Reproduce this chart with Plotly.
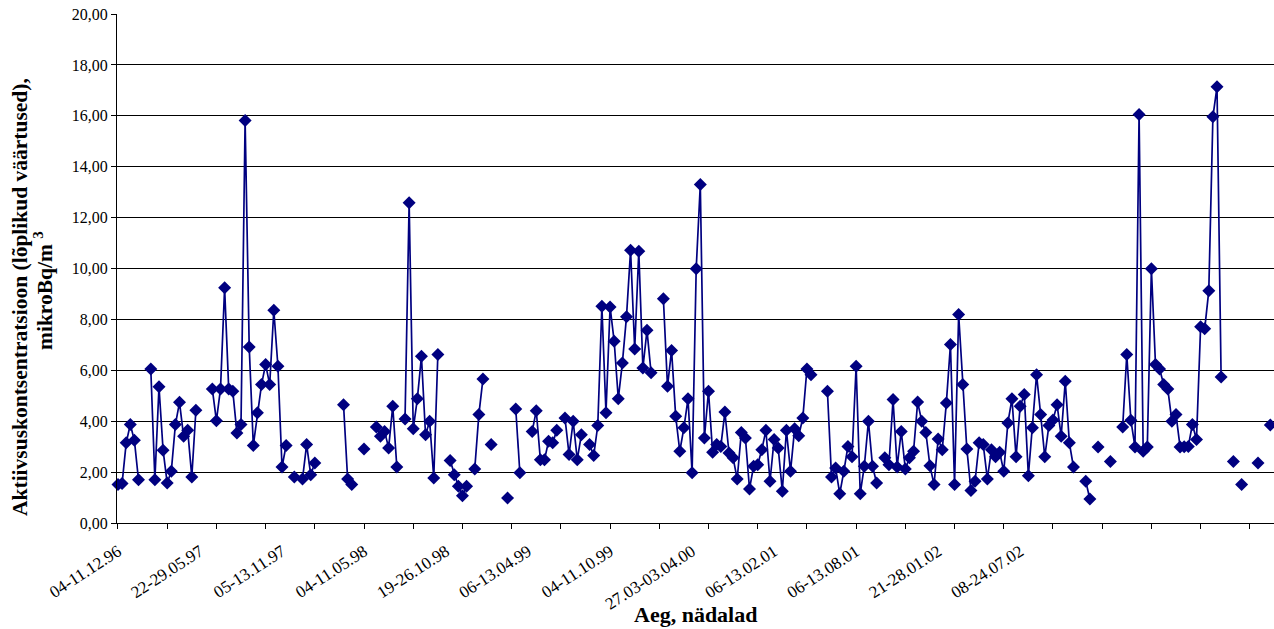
import plotly.graph_objects as go

# ---------------- data ----------------
tick_labels = ["04-11.12.96", "22-29.05.97", "05-13.11.97", "04-11.05.98",
               "19-26.10.98", "06-13.04.99", "04-11.10.99", "27.03-03.04.00",
               "06-13.02.01", "06-13.08.01", "21-28.01.02", "08-24.07.02"]
label_step = 20   # categories between tick labels
tick_step = 12    # categories between tick marks

# weekly activity concentration, mikroBq/m3 (None = no measurement)
values = [
    1.51, 1.55, 3.15, 3.87, 3.25, 1.70, None, None, 6.05, 1.70,
    5.35, 2.86, 1.57, 2.03, 3.87, 4.74, 3.41, 3.64, 1.81, 4.43,
    None, None, None, 5.27, 4.02, 5.27, 9.24, 5.27, 5.18, 3.54,
    3.87, 15.82, 6.92, 3.05, 4.33, 5.44, 6.23, 5.44, 8.36, 6.16,
    2.20, 3.05, None, 1.81, None, 1.73, 3.08, 1.90, 2.36, None,
    None, None, None, None, None, 4.65, 1.73, 1.51, None, None,
    2.91, None, None, 3.77, 3.41, 3.60, 2.95, 4.59, 2.20, None,
    4.09, 12.58, 3.70, 4.88, 6.55, 3.47, 4.00, 1.77, 6.62, None,
    None, 2.46, 1.90, 1.44, 1.07, 1.44, None, 2.12, 4.26, 5.66,
    None, 3.08, None, None, None, 0.98, None, 4.48, 1.97, None,
    None, 3.60, 4.41, 2.49, 2.49, 3.21, 3.15, 3.64, None, 4.13,
    2.69, 4.00, 2.49, 3.47, None, 3.08, 2.65, 3.83, 8.52, 4.33,
    8.49, 7.14, 4.88, 6.29, 8.10, 10.72, 6.84, 10.68, 6.09, 7.57,
    5.90, None, None, 8.81, 5.37, 6.78, 4.19, 2.82, 3.74, 4.88,
    1.97, 9.99, 13.30, 3.34, 5.18, 2.78, 3.08, 3.01, 4.36, 2.75,
    2.56, 1.73, 3.56, 3.34, 1.34, 2.23, 2.29, 2.88, 3.64, 1.64,
    3.28, 2.95, 1.25, 3.64, 2.03, 3.70, 3.43, 4.13, 6.05, 5.83,
    None, None, None, 5.18, 1.81, 2.16, 1.15, 2.03, 3.01, 2.60,
    6.16, 1.15, 2.23, 4.00, 2.23, 1.57, None, 2.56, 2.29, 4.85,
    2.20, 3.60, 2.12, 2.56, 2.82, 4.75, 4.00, 3.56, 2.25, 1.51,
    3.30, 2.88, 4.72, 7.01, 1.51, 8.19, 5.44, 2.91, 1.28, 1.64,
    3.15, 3.08, 1.73, 2.88, 2.60, 2.78, 2.03, 3.93, 4.88, 2.60,
    4.59, 5.05, 1.86, 3.74, 5.83, 4.26, 2.60, 3.83, 4.05, 4.65,
    3.41, 5.57, 3.15, 2.20, None, None, 1.64, 0.94, None, 2.99,
    None, None, 2.42, None, None, 3.77, 6.62, 4.04, 2.99, 16.05,
    2.82, 2.99, 9.99, 6.23, 6.05, 5.44, 5.27, 4.00, 4.26, 2.99,
    3.00, 3.01, 3.87, 3.28, 7.71, 7.63, 9.13, 15.96, 17.14, 5.74,
    None, None, 2.42, None, 1.51, None, None, None, 2.36, None,
    None, 3.85,
]
weeks = list(range(len(values)))

y_title_1 = "Aktiivsuskontsentratsioon (lõplikud väärtused),"
y_title_2 = "mikroBq/m&nbsp;<sup>3</sup>"
x_title = "Aeg, nädalad"

# ---------------- figure ----------------
NAVY = "#000080"
SERIF = "Liberation Serif"

fig = go.Figure()
fig.add_trace(go.Scatter(
    x=weeks, y=values, mode="lines+markers",
    line=dict(color=NAVY, width=1.7),
    marker=dict(symbol="diamond", size=10, color=NAVY),
    connectgaps=False, cliponaxis=False, showlegend=False,
    hoverinfo="x+y",
))
# helper trace for the tick-mark axis
fig.add_trace(go.Scatter(x=[None], y=[None], xaxis="x2", showlegend=False,
                         hoverinfo="skip"))

xr = [-0.24, 281.9]
fig.update_layout(
    width=1274, height=629,
    margin=dict(l=117, r=0, t=14, b=106, autoexpand=False),
    plot_bgcolor="white", paper_bgcolor="white",
    separators=", ",
    font=dict(family=SERIF, color="black"),
    showlegend=False,
    xaxis=dict(
        range=xr, tickmode="array", automargin=False,
        tickvals=[i * label_step for i in range(len(tick_labels))],
        ticktext=tick_labels, ticks="", tickangle=-33,
        tickfont=dict(family=SERIF, size=17, color="black"),
        ticklabelstandoff=11,
        showgrid=False, zeroline=False,
        showline=True, linecolor="black", linewidth=1,
    ),
    xaxis2=dict(
        range=xr, overlaying="x", anchor="y", side="bottom", automargin=False,
        tickmode="linear", tick0=0, dtick=tick_step,
        ticks="outside", ticklen=5, tickcolor="black", tickwidth=1,
        showticklabels=False, showgrid=False, zeroline=False, showline=False,
    ),
    yaxis=dict(
        range=[0, 20], dtick=2, tickformat=".2f", automargin=False,
        ticks="outside", ticklen=5, tickcolor="black",
        tickfont=dict(family=SERIF, size=16, color="black"),
        showgrid=True, gridcolor="black", gridwidth=1,
        zeroline=False, showline=True, linecolor="black", linewidth=1,
    ),
)

W, H = 1157.0, 509.0
def px(x): return (x - 117) / W
def py(y): return (523 - y) / H

fig.add_annotation(text="<b>" + y_title_1 + "</b>", xref="paper", yref="paper",
                   x=px(20), y=py(297), textangle=-90, showarrow=False,
                   xanchor="center", yanchor="middle",
                   font=dict(family=SERIF, size=21.5, color="black"))
fig.add_annotation(text="<b>" + y_title_2 + "</b>", xref="paper", yref="paper",
                   x=px(43), y=py(291), textangle=-90, showarrow=False,
                   xanchor="center", yanchor="middle",
                   font=dict(family=SERIF, size=21.5, color="black"))
fig.add_annotation(text="<b>" + x_title + "</b>", xref="paper", yref="paper",
                   x=px(695), y=py(614), showarrow=False,
                   xanchor="center", yanchor="middle",
                   font=dict(family=SERIF, size=22, color="black"))

fig.write_html(
    "out.html",
    config={"displayModeBar": False},
    post_script="document.body.style.margin='0';document.body.style.padding='0';"
                "document.body.style.overflow='hidden';",
)
